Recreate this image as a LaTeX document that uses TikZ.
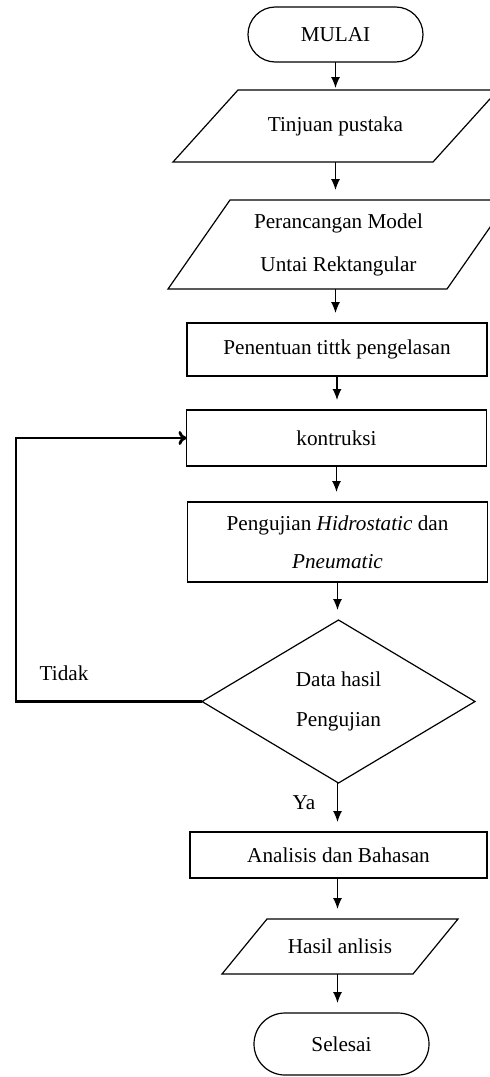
\documentclass[tikz,border=0pt]{standalone}
\usepackage{fontspec}
\setmainfont{Liberation Serif}
\usetikzlibrary{shapes.geometric,arrows.meta,calc}

\begin{document}
\begin{tikzpicture}[x=0.5pt,y=-0.5pt,
  every node/.style={font=\fontsize{10.6}{12.5}\selectfont},
  terminal/.style={rectangle, draw, line width=0.6pt, minimum width=87.5pt, outer sep=0pt},
  proses/.style={rectangle, draw, line width=0.6pt, minimum width=150pt, outer sep=0pt, align=center},
  inout/.style={rectangle, outer sep=0pt, align=center},
  keputusan/.style={diamond, draw, line width=0.6pt, aspect=1.67, inner sep=0pt, minimum width=136.5pt, minimum height=81.5pt, align=center, outer sep=0pt},
  panah/.style={-{Latex[length=5.5pt,width=4.5pt]}, line width=0.6pt, shorten >=5pt},
  balik/.style={-{To[length=4pt,width=7pt]}, line width=1.4pt}]
\useasboundingbox (0,0) rectangle (489,1077);

\node[terminal, minimum height=27.5pt, rounded corners=13.7pt] (mulai) at (335.5,34.5) {MULAI};

\node[inout, minimum width=162.5pt, minimum height=36pt] (tinjuan) at (335.5,126) {Tinjuan pustaka};
\draw[line width=0.6pt] (tinjuan.south west) -- ++(260,0) -- (tinjuan.north east) -- ++(-260,0) -- cycle;

\node[inout, minimum width=170.5pt, minimum height=44.5pt] (perancangan) at (338.5,244.5) {Perancangan Model\\[9pt] Untai Rektangular};
\draw[line width=0.6pt] (perancangan.south west) -- ++(279,0) -- (perancangan.north east) -- ++(-279,0) -- cycle;

\node[proses, minimum height=26.5pt] (penentuan) at (337,349.5) {Penentuan tittk pengelasan};
\node[proses, minimum height=28pt] (kontruksi) at (336.5,438) {kontruksi};
\node[proses, minimum height=40pt] (pengujian) at (337.5,542) {Pengujian \textit{Hidrostatic} dan\\[6.5pt] \textit{Pneumatic}};
\node[keputusan] (data) at (338.5,701.5) {Data hasil\\[7.5pt] Pengujian};
\node[proses, minimum width=148.5pt, minimum height=23pt] (analisis) at (338.5,855) {Analisis dan Bahasan};

\node[inout, minimum width=118pt, minimum height=27.5pt] (hasil) at (340,946.5) {Hasil anlisis};
\draw[line width=0.6pt] (hasil.south west) -- ++(191,0) -- (hasil.north east) -- ++(-191,0) -- cycle;

\node[terminal, minimum height=31pt, rounded corners=15.5pt] (selesai) at (341.5,1044) {Selesai};

\node (tidak) at (64,673) {Tidak};
\node (ya) at (304,803) {Ya};

% alur utama
\draw[panah, shorten >=1pt] (mulai.south) -- (mulai.south |- tinjuan.north);
\draw[panah] (tinjuan.south) -- (tinjuan.south |- perancangan.north);
\draw[panah] (perancangan.south -| tinjuan.south) -- (tinjuan.south |- penentuan.north);
\draw[panah] (penentuan.south) -- (penentuan.south |- kontruksi.north);
\draw[panah] (kontruksi.south) -- (kontruksi.south |- pengujian.north);
\draw[panah] (pengujian.south) -- (pengujian.south |- data.north);
\draw[panah] (data.south -| pengujian.south) -- (pengujian.south |- analisis.north);
\draw[panah] (analisis.south -| pengujian.south) -- (pengujian.south |- hasil.north);
\draw[panah] (hasil.south -| pengujian.south) -- (pengujian.south |- selesai.north);

% kembali ke kontruksi
\draw[balik] (data.west) -- ++(-186,0) |- (kontruksi.west);
\end{tikzpicture}
\end{document}
